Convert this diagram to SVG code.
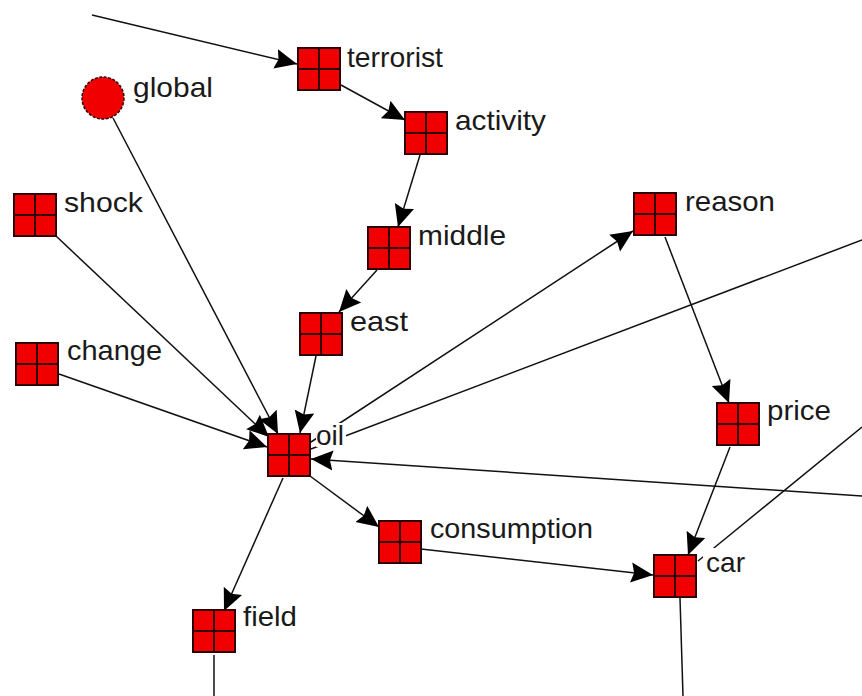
<svg xmlns="http://www.w3.org/2000/svg" width="862" height="696" viewBox="0 0 862 696">
  <style>
    .box { fill: #f00000; stroke: #300000; stroke-width: 2; }
    .grid { stroke: #300000; stroke-width: 2; fill: none; }
    .lbl { font-family: "Liberation Sans", Arial, sans-serif; font-size: 28px; fill: #1a1a1a; }
    .lbg { fill: #fff; }
    .edge { stroke: #111; stroke-width: 1.5; fill: none; }
    .arr { marker-end: url(#head); }
  </style>
  <defs>
    <marker id="head" markerUnits="userSpaceOnUse" markerWidth="23" markerHeight="22" viewBox="0 0 23 22" refX="22" refY="11" orient="auto">
      <path d="M0,1 L22,11 L0,21 L3,11 z" fill="#000"/>
    </marker>
    <g id="cell">
      <rect class="box" x="0" y="0" width="42" height="42"/>
      <path class="grid" d="M21,0 V42 M0,21 H42"/>
    </g>
  </defs>
  <rect width="862" height="696" fill="#fff"/>

  <g id="connectors">
    <line class="edge arr" x1="92" y1="15" x2="297" y2="64"/>
    <line class="edge arr" x1="341" y1="85" x2="405" y2="120"/>
    <line class="edge arr" x1="420" y1="155" x2="398" y2="227"/>
    <line class="edge arr" x1="377" y1="270" x2="339" y2="312"/>
    <line class="edge arr" x1="316" y1="356" x2="300" y2="433"/>
    <line class="edge arr" x1="113" y1="118" x2="278" y2="434"/>
    <line class="edge arr" x1="56" y1="236" x2="269" y2="437"/>
    <line class="edge arr" x1="59" y1="374" x2="267" y2="447"/>
    <line class="edge arr" x1="311" y1="442" x2="633" y2="231"/>
    <line class="edge" x1="311" y1="449" x2="862" y2="240"/>
    <line class="edge arr" x1="862" y1="496" x2="311" y2="459"/>
    <line class="edge arr" x1="310" y1="476" x2="379" y2="527"/>
    <line class="edge arr" x1="283" y1="478" x2="224" y2="611"/>
    <line class="edge arr" x1="665" y1="237" x2="729" y2="403"/>
    <line class="edge arr" x1="730" y1="447" x2="688" y2="555"/>
    <line class="edge arr" x1="421" y1="549" x2="653" y2="575"/>
    <line class="edge" x1="698" y1="561" x2="862" y2="427"/>
    <line class="edge" x1="680" y1="598" x2="683" y2="696"/>
    <line class="edge" x1="214" y1="655" x2="214" y2="696"/>
  </g>

  <g id="node-terrorist">
    <use href="#cell" x="298" y="48"/>
    <text class="lbl" x="347" y="67" textLength="96" lengthAdjust="spacingAndGlyphs">terrorist</text>
  </g>
  <g id="node-global">
    <circle cx="103" cy="98" r="21" fill="#f00000" stroke="#300000" stroke-width="1.5" stroke-dasharray="3 1.5"/>
    <text class="lbl" x="133" y="97" textLength="80" lengthAdjust="spacingAndGlyphs">global</text>
  </g>
  <g id="node-activity">
    <use href="#cell" x="405" y="112"/>
    <text class="lbl" x="455" y="130" textLength="91" lengthAdjust="spacingAndGlyphs">activity</text>
  </g>
  <g id="node-shock">
    <use href="#cell" x="14" y="194"/>
    <text class="lbl" x="64" y="212" textLength="79" lengthAdjust="spacingAndGlyphs">shock</text>
  </g>
  <g id="node-middle">
    <use href="#cell" x="368" y="227"/>
    <text class="lbl" x="418" y="245" textLength="88" lengthAdjust="spacingAndGlyphs">middle</text>
  </g>
  <g id="node-reason">
    <use href="#cell" x="634" y="193"/>
    <text class="lbl" x="685" y="211" textLength="90" lengthAdjust="spacingAndGlyphs">reason</text>
  </g>
  <g id="node-east">
    <use href="#cell" x="300" y="313"/>
    <text class="lbl" x="350" y="331" textLength="58" lengthAdjust="spacingAndGlyphs">east</text>
  </g>
  <g id="node-change">
    <use href="#cell" x="16" y="343"/>
    <text class="lbl" x="67" y="360" textLength="95" lengthAdjust="spacingAndGlyphs">change</text>
  </g>
  <g id="node-oil">
    <use href="#cell" x="268" y="434"/>
    <rect class="lbg" x="316" y="423" width="30" height="24"/>
    <text class="lbl" x="316" y="445" textLength="28" lengthAdjust="spacingAndGlyphs">oil</text>
  </g>
  <g id="node-price">
    <use href="#cell" x="717" y="403"/>
    <text class="lbl" x="767" y="420" textLength="64" lengthAdjust="spacingAndGlyphs">price</text>
  </g>
  <g id="node-consumption">
    <use href="#cell" x="379" y="521"/>
    <text class="lbl" x="430" y="538" textLength="163" lengthAdjust="spacingAndGlyphs">consumption</text>
  </g>
  <g id="node-car">
    <use href="#cell" x="654" y="555"/>
    <rect class="lbg" x="703" y="548" width="44" height="27"/>
    <text class="lbl" x="706" y="572" textLength="39" lengthAdjust="spacingAndGlyphs">car</text>
  </g>
  <g id="node-field">
    <use href="#cell" x="193" y="610"/>
    <text class="lbl" x="243" y="626" textLength="54" lengthAdjust="spacingAndGlyphs">field</text>
  </g>
</svg>
